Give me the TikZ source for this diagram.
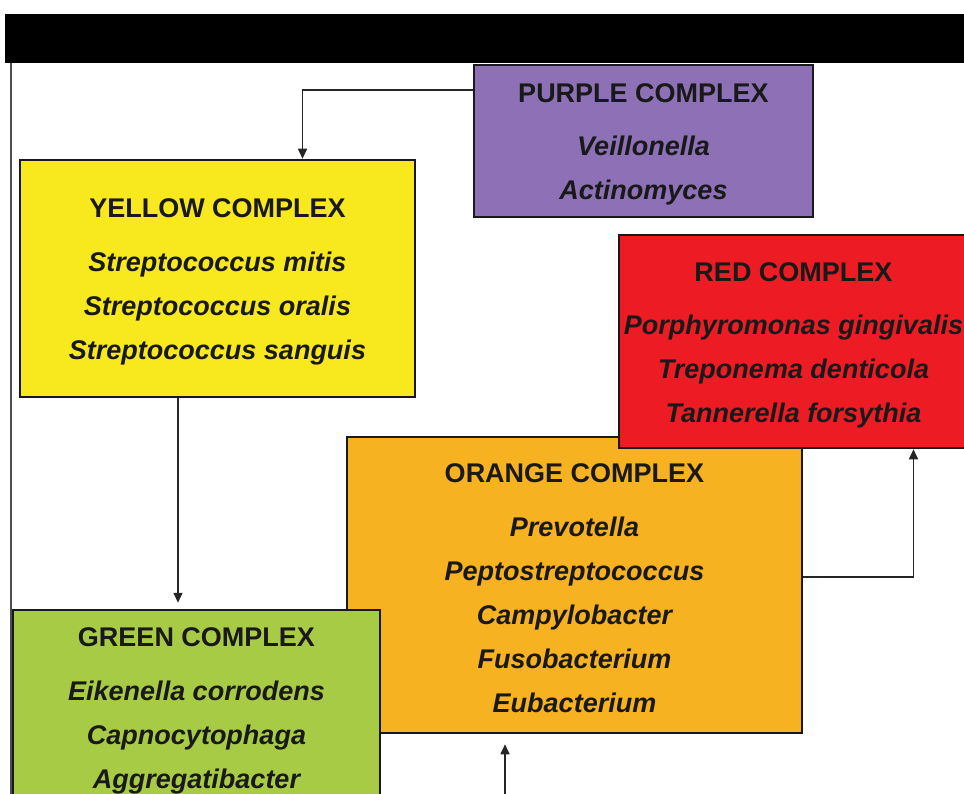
\documentclass[tikz,border=0pt]{standalone}
\usepackage{fontspec}
\setmainfont{Liberation Sans}
\usetikzlibrary{calc,positioning,arrows.meta}
\tikzset{>={Triangle[width=9pt,length=10pt]}}

\definecolor{cpurple}{RGB}{141,112,181}
\definecolor{cyellow}{RGB}{247,233,30}
\definecolor{cred}{RGB}{237,28,36}
\definecolor{corange}{RGB}{246,178,32}
\definecolor{cgreen}{RGB}{168,203,70}
\newcommand{\cxtitle}[1]{{\upshape\rule{0pt}{26pt}#1}}

\begin{document}
\begin{tikzpicture}[x=1pt,y=-1pt,
    complex/.style={draw=black!90,line width=2.5pt,align=center,inner sep=0pt,
      font=\fontsize{27}{44}\selectfont\bfseries\itshape,text=black!90},
    link/.style={->,line width=1.6pt,draw=black!85}]
    \clip (0,0) rectangle (964,794);
    \fill[black] (5,14) rectangle (964,63);
    \coordinate (rulet) at (11,63);
    \coordinate (ruleb) at (11,800);
    \draw[line width=1.5pt,black!70] (rulet) -- (ruleb);

    \node[complex, fill=cpurple, minimum width=339pt, minimum height=152pt] (purple) at (643.5,141)
        {\cxtitle{PURPLE COMPLEX}\\[9pt] Veillonella\\ Actinomyces};
    \node[complex, fill=cyellow, minimum width=395pt, minimum height=237pt] (yellow) at (217.5,278.5)
        {\cxtitle{YELLOW COMPLEX}\\[10pt] Streptococcus mitis\\ Streptococcus oralis\\ Streptococcus sanguis};
    \node[complex, fill=corange, minimum width=455pt, minimum height=296pt] (orange) at (574.5,585)
        {\cxtitle{ORANGE COMPLEX}\\[10pt] Prevotella\\ Peptostreptococcus\\ Campylobacter\\ Fusobacterium\\ Eubacterium};
    \node[complex, fill=cred, minimum width=349pt, minimum height=213pt] (red) at (793.5,341.5)
        {\cxtitle{RED COMPLEX}\\[9pt] Porphyromonas gingivalis\\ Treponema denticola\\ Tannerella forsythia};
    \node[complex, fill=cgreen, minimum width=367pt, minimum height=195pt] (green) at (196.5,707.5)
        {\cxtitle{GREEN COMPLEX}\\[10pt] Eikenella corrodens\\ Capnocytophaga\\ Aggregatibacter};
    \coordinate (below) at (505,800);

    \draw[link] ([yshift=51pt]purple.west) -| ([xshift=85pt]yellow.north);
    \draw[link, shorten >=6pt] ([xshift=-39.5pt]yellow.south) -- ([xshift=-39.5pt]yellow.south |- green.north);
    \draw[link] ([yshift=8pt]orange.east) -| ([xshift=120pt]red.south);
    \draw[link, shorten >=10pt] (below) -- (below |- orange.south);
\end{tikzpicture}
\end{document}
